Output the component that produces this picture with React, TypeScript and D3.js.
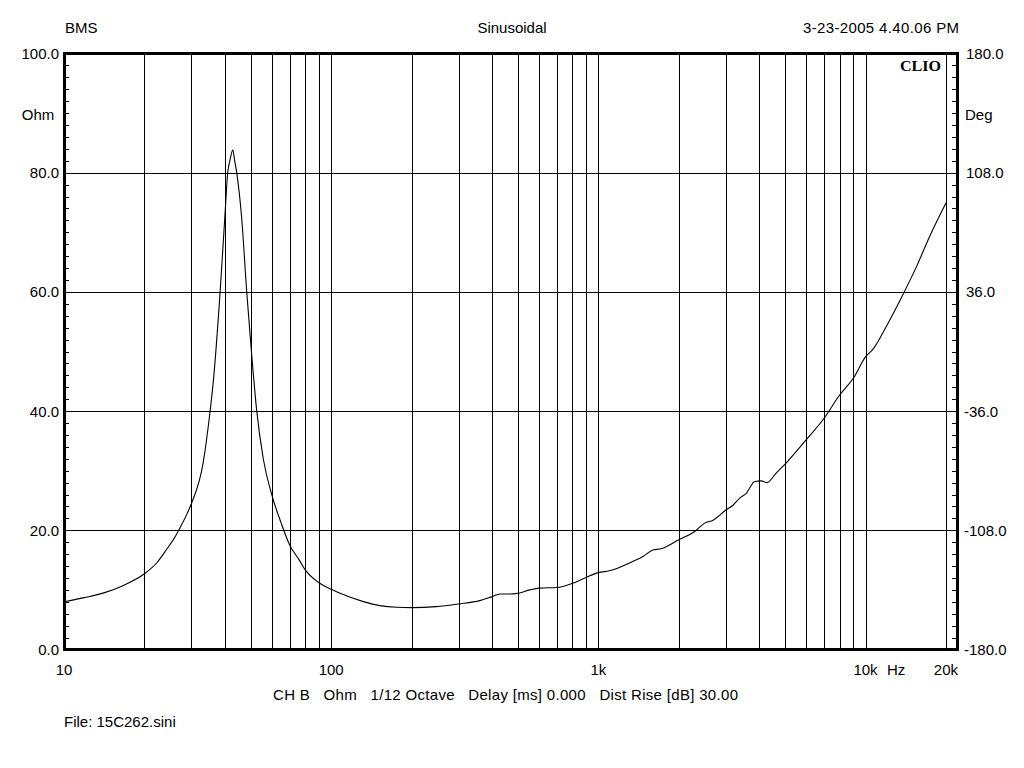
import React from "react";
import * as d3 from "d3";

// Impedance magnitude curve (Hz, Ohm)
const freqs = [
  10, 11.9, 14.1, 16.75, 20, 22.3, 24.3, 25.8, 27.3, 28.9, 30, 33.2, 35.2, 36.2,
  38.4, 40, 41.0, 41.8, 42.85, 43.5, 44.3, 46.2, 48.3, 50, 52.6,
  55.7, 60, 65, 70, 76, 80, 90, 100, 114, 132, 152, 176, 200, 247, 300, 360,
  400, 428, 465, 500, 554, 600, 700, 800, 900, 1000, 1100, 1350, 1470, 1600,
  1720, 2000, 2295, 2500, 2690, 3000, 3190, 3380, 3580, 3850, 4070, 4280, 4630,
  5000, 6000, 7000, 8000, 9000, 10000, 10670, 11960, 13930, 15500, 17380, 20000,
];
const ohms = [
  8.0, 8.7, 9.5, 10.8, 12.7, 14.6, 16.9, 18.6, 20.6, 22.8, 24.5, 31.4, 39.9,
  44.9, 60, 72.6, 80, 82.1, 83.8, 82.1, 80, 72.6, 60, 51.4, 40.2,
  32.0, 25.9, 21.2, 17.5, 15.0, 13.35, 11.2, 10.1, 9.0, 8.03, 7.36, 7.08, 7.03,
  7.19, 7.64, 8.2, 8.87, 9.32, 9.3, 9.44, 10.0, 10.3, 10.4, 11.1, 12.1, 12.9,
  13.2, 14.8, 15.6, 16.7, 16.9, 18.4, 19.8, 21.2, 21.7, 23.4, 24.2, 25.4, 26.2,
  28.2, 28.3, 28.0, 29.6, 31.1, 35.2, 38.8, 42.7, 45.5, 49.1, 50.4, 54.2, 59.9,
  64.2, 69.3, 74.9,
];

const gridFreqs = [
  20, 30, 40, 50, 60, 70, 80, 90, 100, 200, 300, 400, 500, 600, 700, 800, 900,
  1000, 2000, 3000, 4000, 5000, 6000, 7000, 8000, 9000, 10000, 20000,
];
const xLabelFreqs = [10, 100, 1000, 10000, 20000];
const xLabelTexts = ["10", "100", "1k", "10k", "20k"];
const leftTickValues = [0, 20, 40, 60, 80, 100];
const leftTickTexts = ["0.0", "20.0", "40.0", "60.0", "80.0", "100.0"];
const rightTickTexts = ["-180.0", "-108.0", "-36.0", "36.0", "108.0", "180.0"];

const headerLeft = "BMS";
const headerCenter = "Sinusoidal";
const headerRight = "3-23-2005 4.40.06 PM";
const footerInfo = "CH B   Ohm   1/12 Octave   Delay [ms] 0.000   Dist Rise [dB] 30.00";
const footerFile = "File: 15C262.sini";

export default function App() {
  const W = 1024;
  const H = 768;
  const L = 64;
  const R = 957;
  const T = 53.5;
  const B = 649.5;
  const x = d3.scaleLog().domain([10, 22000]).range([L, R]);
  const y = d3.scaleLinear().domain([0, 100]).range([B, T]);
  const minorTicks = d3.range(0, 100.01, 2);
  const font = "'Liberation Sans', Arial, sans-serif";

  const pts: [number, number][] = freqs.map((f, i) => [x(f), y(ohms[i])]);
  const path = d3.line().curve(d3.curveMonotoneX)(pts) || "";

  return (
    <svg
      width={W}
      height={H}
      style={{ position: "absolute", left: 0, top: 0, background: "#fff" }}
      fontFamily={font}
      fontSize={15}
    >
      <rect x={0} y={0} width={W} height={H} fill="#fff" />
      {/* vertical grid */}
      {gridFreqs.map((f) => (
        <line
          key={"g" + f}
          x1={Math.round(x(f)) + 0.5}
          x2={Math.round(x(f)) + 0.5}
          y1={T}
          y2={B}
          stroke="#000"
          strokeWidth={1}
          shapeRendering="crispEdges"
        />
      ))}
      {/* horizontal grid */}
      {leftTickValues.slice(1, -1).map((v) => (
        <line
          key={"h" + v}
          x1={L}
          x2={R}
          y1={Math.round(y(v)) + 0.5}
          y2={Math.round(y(v)) + 0.5}
          stroke="#000"
          strokeWidth={1}
          shapeRendering="crispEdges"
        />
      ))}
      {/* minor ticks */}
      {minorTicks.map((v) => (
        <g key={"t" + v}>
          <line x1={L} x2={L + 5} y1={Math.round(y(v)) + 0.5} y2={Math.round(y(v)) + 0.5} stroke="#000" shapeRendering="crispEdges" />
          <line x1={R - 5} x2={R} y1={Math.round(y(v)) + 0.5} y2={Math.round(y(v)) + 0.5} stroke="#000" shapeRendering="crispEdges" />
        </g>
      ))}
      {/* curve */}
      <path d={path} fill="none" stroke="#000" strokeWidth={1.1} />
      {/* frame */}
      <rect x={L} y={T} width={R - L} height={B - T} fill="none" stroke="#000" strokeWidth={3} shapeRendering="crispEdges" />

      {/* header */}
      <text x={65} y={33}>{headerLeft}</text>
      <text x={512} y={33} textAnchor="middle">{headerCenter}</text>
      <text x={803} y={33} textLength={156} lengthAdjust="spacing">{headerRight}</text>

      {/* CLIO */}
      <text x={941} y={71} textAnchor="end" fontFamily="'Liberation Serif', 'Times New Roman', serif" fontWeight="bold" fontSize={14} textLength={41} lengthAdjust="spacingAndGlyphs">CLIO</text>

      {/* left labels */}
      {leftTickValues.map((v, i) => (
        <text key={"ll" + v} x={59} y={y(v) + 5.5} textAnchor="end">{leftTickTexts[i]}</text>
      ))}
      <text x={38} y={120} textAnchor="middle">Ohm</text>
      {/* right labels */}
      {leftTickValues.map((v, i) => (
        <text key={"rl" + v} x={rightTickTexts[i].startsWith("-") ? 964 : 966} y={y(v) + 5.5}>{rightTickTexts[i]}</text>
      ))}
      <text x={965} y={120}>Deg</text>

      {/* x labels */}
      {xLabelFreqs.map((f, i) => (
        <text key={"xl" + f} x={x(f)} y={675} textAnchor="middle">{xLabelTexts[i]}</text>
      ))}
      <text x={887} y={675}>Hz</text>

      {/* footer */}
      <text x={273} y={700} style={{ whiteSpace: "pre" }} textLength={465} lengthAdjust="spacing">{footerInfo}</text>
      <text x={64} y={727}>{footerFile}</text>
    </svg>
  );
}
